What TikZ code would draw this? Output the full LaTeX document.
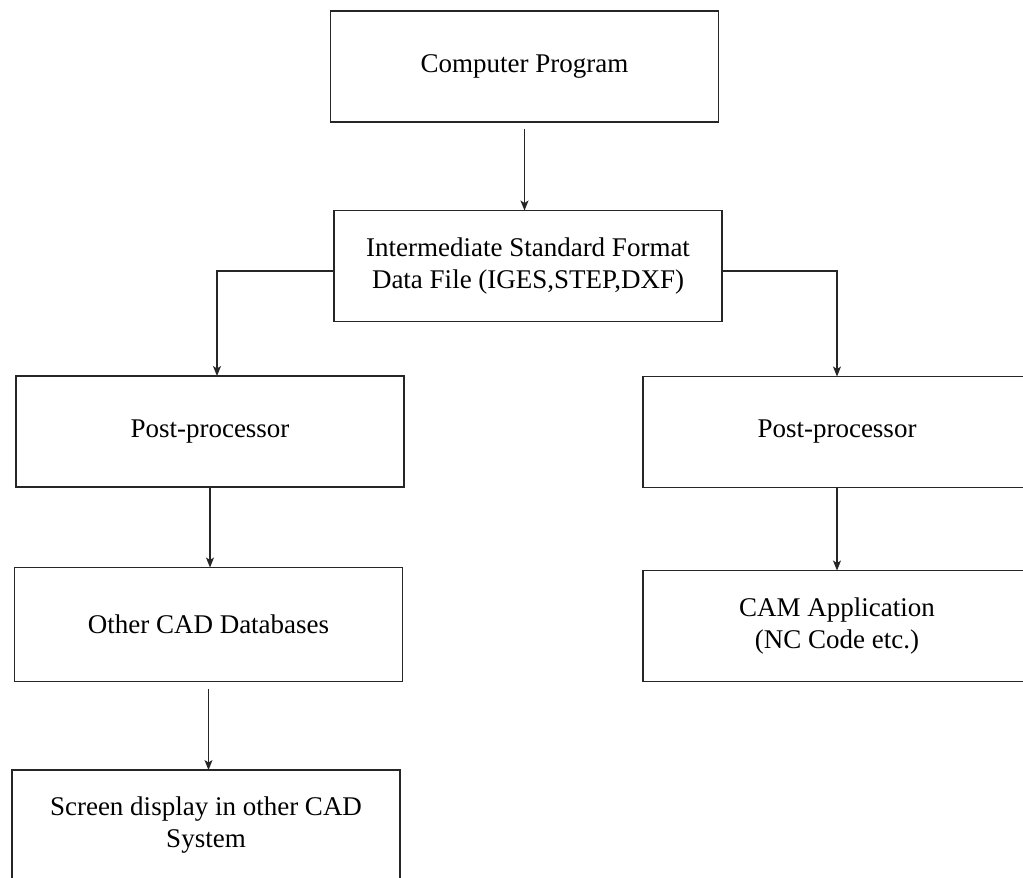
\documentclass[tikz,border=0pt]{standalone}
\usepackage{fontspec}
\setmainfont{Liberation Serif}
\usetikzlibrary{arrows.meta}
\begin{document}
\begin{tikzpicture}[x=1pt,y=-1pt,
  box/.style={draw=black!85, line width=1.3pt, inner sep=0pt, outer sep=0pt,
    minimum width=388pt, minimum height=111pt, align=center,
    font=\fontsize{27}{32}\selectfont},
  arr/.style={draw=black!85, line width=1.2pt, -{Stealth[length=10pt,width=8pt,inset=2.5pt]}}]
\useasboundingbox (0,0) rectangle (1023,878);
\clip (0,0) rectangle (1023,878);
\fill[white] (0,0) rectangle (1023,878);
\node[box] (cp)  at (524.5,66.5) {Computer Program};
\node[box] (int) at (528,266) {Intermediate Standard Format\\Data File (IGES,STEP,DXF)};
\node[box] (ppl) at (210,431.5) {\raisebox{-8pt}{Post-processor}};
\node[box] (ppr) at (837,432) {Post-processor};
\node[box, minimum height=114pt] (cad) at (208.5,624.5) {Other CAD Databases};
\node[box] (cam) at (837,626) {CAM Application\\(NC Code etc.)};
\node[box] (scr) at (206,825.5) {Screen display in other CAD\\System};
\draw[arr, shorten <=7pt] (cp.south) -- (cp.south |- int.north);
\draw[arr] ([yshift=-5pt]int.west) -| ([xshift=7pt]ppl.north);
\draw[arr] ([yshift=-5pt]int.east) -| (ppr.north);
\draw[arr] (ppl.south) -- (ppl.south |- cad.north);
\draw[arr] (ppr.south) -- (ppr.south |- cam.north);
\draw[arr, shorten <=7pt] (cad.south) -- (cad.south |- scr.north);
\end{tikzpicture}
\end{document}
